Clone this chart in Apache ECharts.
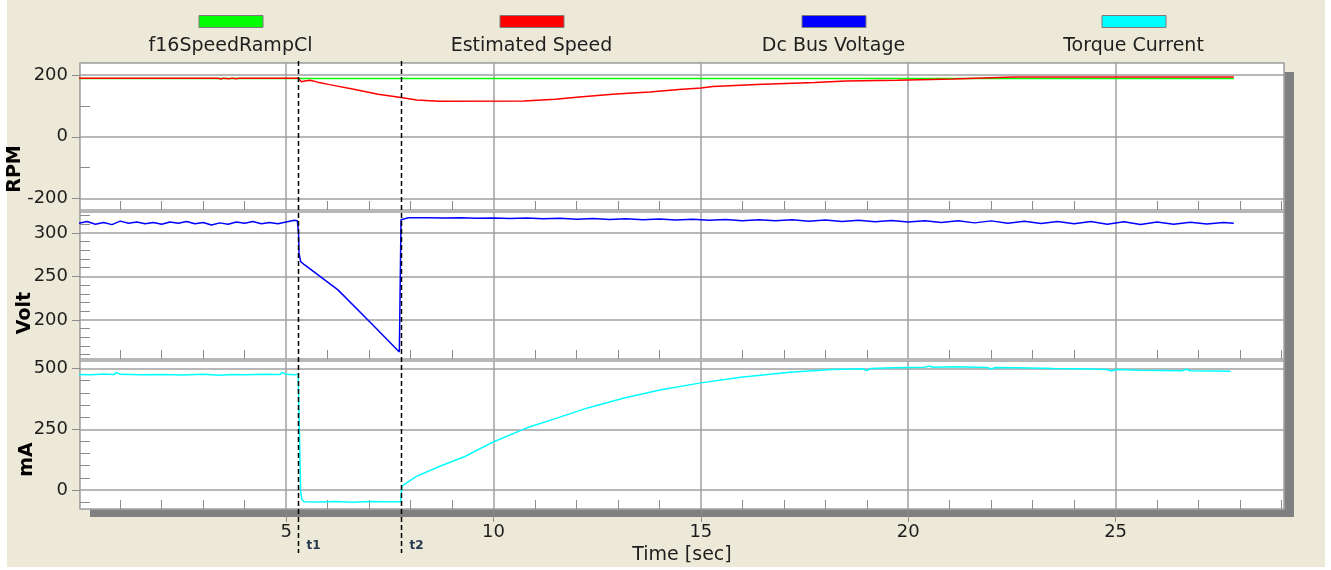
<!DOCTYPE html>
<html>
<head>
<meta charset="utf-8">
<script src="https://cdn.jsdelivr.net/npm/echarts@6/dist/echarts.min.js"></script>
<style>
  html, body { margin: 0; padding: 0; background: #fff; }
  #frame { position: absolute; left: 7px; top: 0; width: 1318px; height: 567px; background: #ece9d8; }
  #chart { position: absolute; left: 0; top: 0; width: 1331px; height: 570px; }
</style>
</head>
<body>
<div id="frame"></div>
<div id="chart"></div>
<script>
const FONT = "DejaVu Sans";
const GRID_LINE = "#a0a0a0";
const TICK = "#8c8c8c";
const TEXT = "#1e1e1e";

// series names and colours
const NAMES = ["f16SpeedRampCl", "Estimated Speed", "Dc Bus Voltage", "Torque Current"];
const COLORS = ["#00ff00", "#ff0000", "#0000ff", "#00ffff"];

// x axis (seconds)
const T_MIN = 0.03;
const T_MAX = 29.06;
const T_MAJOR = [5, 10, 15, 20, 25];
const T_MINOR = [1, 2, 3, 4, 6, 7, 8, 9, 11, 12, 13, 14, 16, 17, 18, 19, 21, 22, 23, 24, 26, 27, 28, 29];

// y axes
const RPM_MAJOR = [-200, 0, 200];
const RPM_MINOR = [-100, 100];
const VOLT_MAJOR = [200, 250, 300];
const VOLT_MINOR = [160, 170, 180, 190, 210, 220, 230, 240, 260, 270, 280, 290, 310, 320];
const MA_MAJOR = [0, 250, 500];
const MA_MINOR = [-50, 50, 100, 150, 200, 300, 350, 400, 450];

// event markers
const MARKERS = [{ name: "t1", t: 5.29 }, { name: "t2", t: 7.76 }];

// [time, rpm]
const speedRamp = [[0, 189], [27.85, 189]];
const estSpeed = [
  [0, 190], [3.35, 190], [3.42, 187], [3.5, 190], [3.62, 188], [3.7, 190], [3.8, 188], [3.87, 190],
  [5.29, 190], [5.37, 178], [5.45, 181], [5.58, 183], [5.76, 177], [6.05, 169], [6.63, 154],
  [7.22, 138], [7.77, 127], [8.15, 119], [8.68, 115], [10.73, 116], [11.49, 122], [12.07, 129],
  [12.95, 139], [13.77, 145], [14.47, 153], [15.0, 158], [15.29, 163], [16.34, 169], [17.74, 176],
  [18.5, 181], [19.73, 183], [21.08, 187], [22.54, 194], [27.85, 194]
];
// [time, volt]
const busVoltage = [
  [0, 311], [0.2, 313], [0.4, 310], [0.6, 312], [0.8, 309.5], [1.0, 313.5], [1.2, 311], [1.4, 312.5],
  [1.6, 310.5], [1.8, 312], [2.0, 310], [2.2, 312.5], [2.4, 311], [2.6, 313], [2.8, 310.5], [3.0, 312],
  [3.2, 309], [3.4, 311.5], [3.6, 310], [3.8, 312.5], [4.0, 311], [4.2, 313], [4.4, 310.5], [4.6, 312],
  [4.8, 310.5], [5.0, 312.5], [5.2, 314.5], [5.27, 314], [5.3, 300], [5.31, 277], [5.35, 267],
  [5.44, 263.4], [6.25, 234.5], [7.05, 196], [7.73, 163], [7.75, 240], [7.77, 315], [7.95, 317.3],
  [8.4, 317.5], [8.8, 317], [9.2, 317.5], [9.6, 316.8], [10.0, 317.2], [10.4, 316.5], [10.8, 317],
  [11.2, 316.2], [11.6, 316.8], [12.0, 315.8], [12.4, 316.5], [12.8, 315.5], [13.2, 316.2], [13.6, 315],
  [14.0, 316], [14.4, 314.8], [14.8, 315.8], [15.2, 314.5], [15.6, 315.5], [16.0, 314], [16.4, 315.2],
  [16.8, 313.8], [17.2, 315], [17.6, 313.5], [18.0, 314.8], [18.4, 313], [18.8, 314.5], [19.2, 312.8],
  [19.6, 314.2], [20.0, 312.5], [20.4, 314], [20.8, 311.8], [21.2, 314], [21.6, 311.5], [22.0, 313.8],
  [22.4, 311], [22.8, 313.5], [23.2, 310.8], [23.6, 313.2], [24.0, 310.5], [24.4, 313], [24.8, 310],
  [25.2, 312.8], [25.6, 309.5], [26.0, 312.5], [26.4, 310], [26.8, 312.2], [27.2, 310.2], [27.6, 312], [27.85, 311]
];
// [time, mA]
const torqueCurrent = [
  [0, 476], [0.3, 474], [0.6, 477], [0.85, 475], [0.9, 484], [1.0, 476], [1.5, 474], [2.0, 475],
  [2.5, 473], [3.0, 476], [3.4, 472], [3.7, 475], [4.0, 474], [4.5, 476], [4.85, 475], [4.9, 484],
  [5.0, 476], [5.2, 474], [5.29, 478], [5.35, -7], [5.38, -40], [5.44, -48], [5.8, -49], [6.2, -47],
  [6.6, -50], [7.0, -47], [7.4, -48], [7.76, -48], [7.79, 16], [8.13, 55], [8.72, 99], [9.31, 138],
  [10.02, 200], [10.79, 255], [11.53, 296], [12.27, 338], [13.15, 379], [14.04, 413], [15.0, 441],
  [15.96, 464], [17.14, 485], [18.17, 496], [18.9, 499], [19.0, 492], [19.1, 500], [19.65, 503],
  [20.4, 505], [20.5, 510], [20.6, 505], [21.13, 507], [21.9, 504], [22.0, 498], [22.1, 504],
  [22.61, 503], [23.5, 500], [24.08, 499], [24.8, 496], [24.9, 490], [25.0, 496], [25.56, 493],
  [26.6, 491], [26.7, 497], [26.8, 491], [27.77, 489]
];

const chart = echarts.init(document.getElementById("chart"));

const GRIDS = [
  { left: 80, right: 47, top: 63, height: 147 },
  { left: 80, right: 47, top: 212, height: 147 },
  { left: 80, right: 47, top: 361, height: 148 }
];

function xMain(grid, bottom) {
  return {
    type: "value", gridIndex: grid, min: T_MIN, max: T_MAX, position: "bottom",
    axisLine: { show: false, onZero: false },
    axisTick: { show: bottom, customValues: T_MAJOR, length: 13, lineStyle: { color: TICK } },
    axisLabel: { show: bottom, customValues: T_MAJOR, margin: 14, fontFamily: FONT, fontSize: 18, color: TEXT },
    splitLine: { show: true, lineStyle: { color: GRID_LINE, width: 1.5 } },
    name: bottom ? "Time [sec]" : "", nameLocation: "middle", nameGap: 37, nameMoveOverlap: false,
    nameTextStyle: { fontFamily: FONT, fontSize: 19, color: TEXT }
  };
}
function xMinor(grid) {
  return {
    type: "value", gridIndex: grid, min: T_MIN, max: T_MAX, position: "bottom",
    axisLine: { show: false, onZero: false },
    axisTick: { show: true, inside: true, customValues: T_MINOR, length: 9, lineStyle: { color: TICK } },
    axisLabel: { show: false }, splitLine: { show: false }
  };
}
function yMain(grid, min, max, majors, name, gap, shift) {
  return {
    type: "value", gridIndex: grid, min: min, max: max, position: "left",
    axisLine: { show: false, onZero: false },
    axisTick: { show: true, customValues: majors, length: 8, lineStyle: { color: TICK } },
    axisLabel: { customValues: majors, margin: 12, fontFamily: FONT, fontSize: 18, color: TEXT },
    splitLine: { show: true, lineStyle: { color: GRID_LINE, width: 1.5 } },
    name: name, nameLocation: "middle", nameRotate: 90, nameGap: gap, nameMoveOverlap: false,
    nameTextStyle: { fontFamily: FONT, fontSize: 19, fontWeight: "bold", color: "#000", padding: [0, shift, 0, 0] }
  };
}
function yMinor(grid, min, max, minors) {
  return {
    type: "value", gridIndex: grid, min: min, max: max, position: "left",
    axisLine: { show: false, onZero: false },
    axisTick: { show: true, inside: true, customValues: minors, length: 10, lineStyle: { color: TICK } },
    axisLabel: { show: false }, splitLine: { show: false }
  };
}

function line(name, color, data, axis) {
  return {
    name: name, type: "line", data: data, xAxisIndex: axis, yAxisIndex: axis,
    color: color, showSymbol: false, symbol: "none",
    lineStyle: { width: 1.5, color: color }
  };
}

// legend: colour boxes with the names below them
const LEGEND_CX = [230.5, 531.5, 833.5, 1133.5];

const base = [
  { id: "shadow", type: "rect", z: -10, shape: { x: 90, y: 72, width: 1204, height: 445 }, style: { fill: "#808080" } },
  { id: "backdrop", type: "rect", z: -9, shape: { x: 80, y: 63, width: 1204, height: 446 }, style: { fill: "#fff", stroke: "#a8a8a8", lineWidth: 1 } }
].concat(NAMES.map((n, i) => ({
  id: "lt" + i, type: "text", x: LEGEND_CX[i], y: 46,
  style: { text: n, font: "19px '" + FONT + "'", fill: TEXT, align: "center", verticalAlign: "middle" }
})));

chart.setOption({
  animation: false,
  grid: GRIDS.map(g => Object.assign({
    show: true, backgroundColor: "#fff", borderColor: "#a0a0a0", borderWidth: 1.5,
    outerBoundsMode: "none", containLabel: false
  }, g)),
  legend: NAMES.map((n, i) => ({
    data: [n], left: LEGEND_CX[i] - 32, top: 15, padding: 0, itemWidth: 64, itemHeight: 12,
    icon: "rect", selectedMode: false, formatter: () => "",
    itemStyle: { borderColor: "#7a7a7a", borderWidth: 1 }
  })),
  xAxis: [xMain(0, false), xMain(1, false), xMain(2, true), xMinor(0), xMinor(1), xMinor(2)],
  yAxis: [
    yMain(0, -237, 239, RPM_MAJOR, "RPM", 55, 65),
    yMain(1, 155, 324, VOLT_MAJOR, "Volt", 45, 55),
    yMain(2, -78, 531, MA_MAJOR, "mA", 43, 49),
    yMinor(0, -237, 239, RPM_MINOR),
    yMinor(1, 155, 324, VOLT_MINOR),
    yMinor(2, -78, 531, MA_MINOR)
  ],
  series: [
    line(NAMES[0], COLORS[0], speedRamp, 0),
    line(NAMES[1], COLORS[1], estSpeed, 0),
    line(NAMES[2], COLORS[2], busVoltage, 1),
    line(NAMES[3], COLORS[3], torqueCurrent, 2)
  ],
  graphic: base
});

// dashed event lines, placed through the time axis
const marks = [];
MARKERS.forEach((m, i) => {
  const x = Math.round(chart.convertToPixel({ xAxisIndex: 2 }, m.t)) + 0.5;
  marks.push({
    id: "mk" + i, type: "line", z: 50,
    shape: { x1: x, y1: 61, x2: x, y2: 553 },
    style: { stroke: "#000", lineWidth: 1.5, lineDash: [5, 3] }
  });
  marks.push({
    id: "mkt" + i, type: "text", z: 50, x: x + 8, y: 546,
    style: { text: m.name, font: "bold 12px '" + FONT + "'", fill: "#26364d", verticalAlign: "middle" }
  });
});
chart.setOption({ graphic: base.concat(marks) });
</script>
</body>
</html>
